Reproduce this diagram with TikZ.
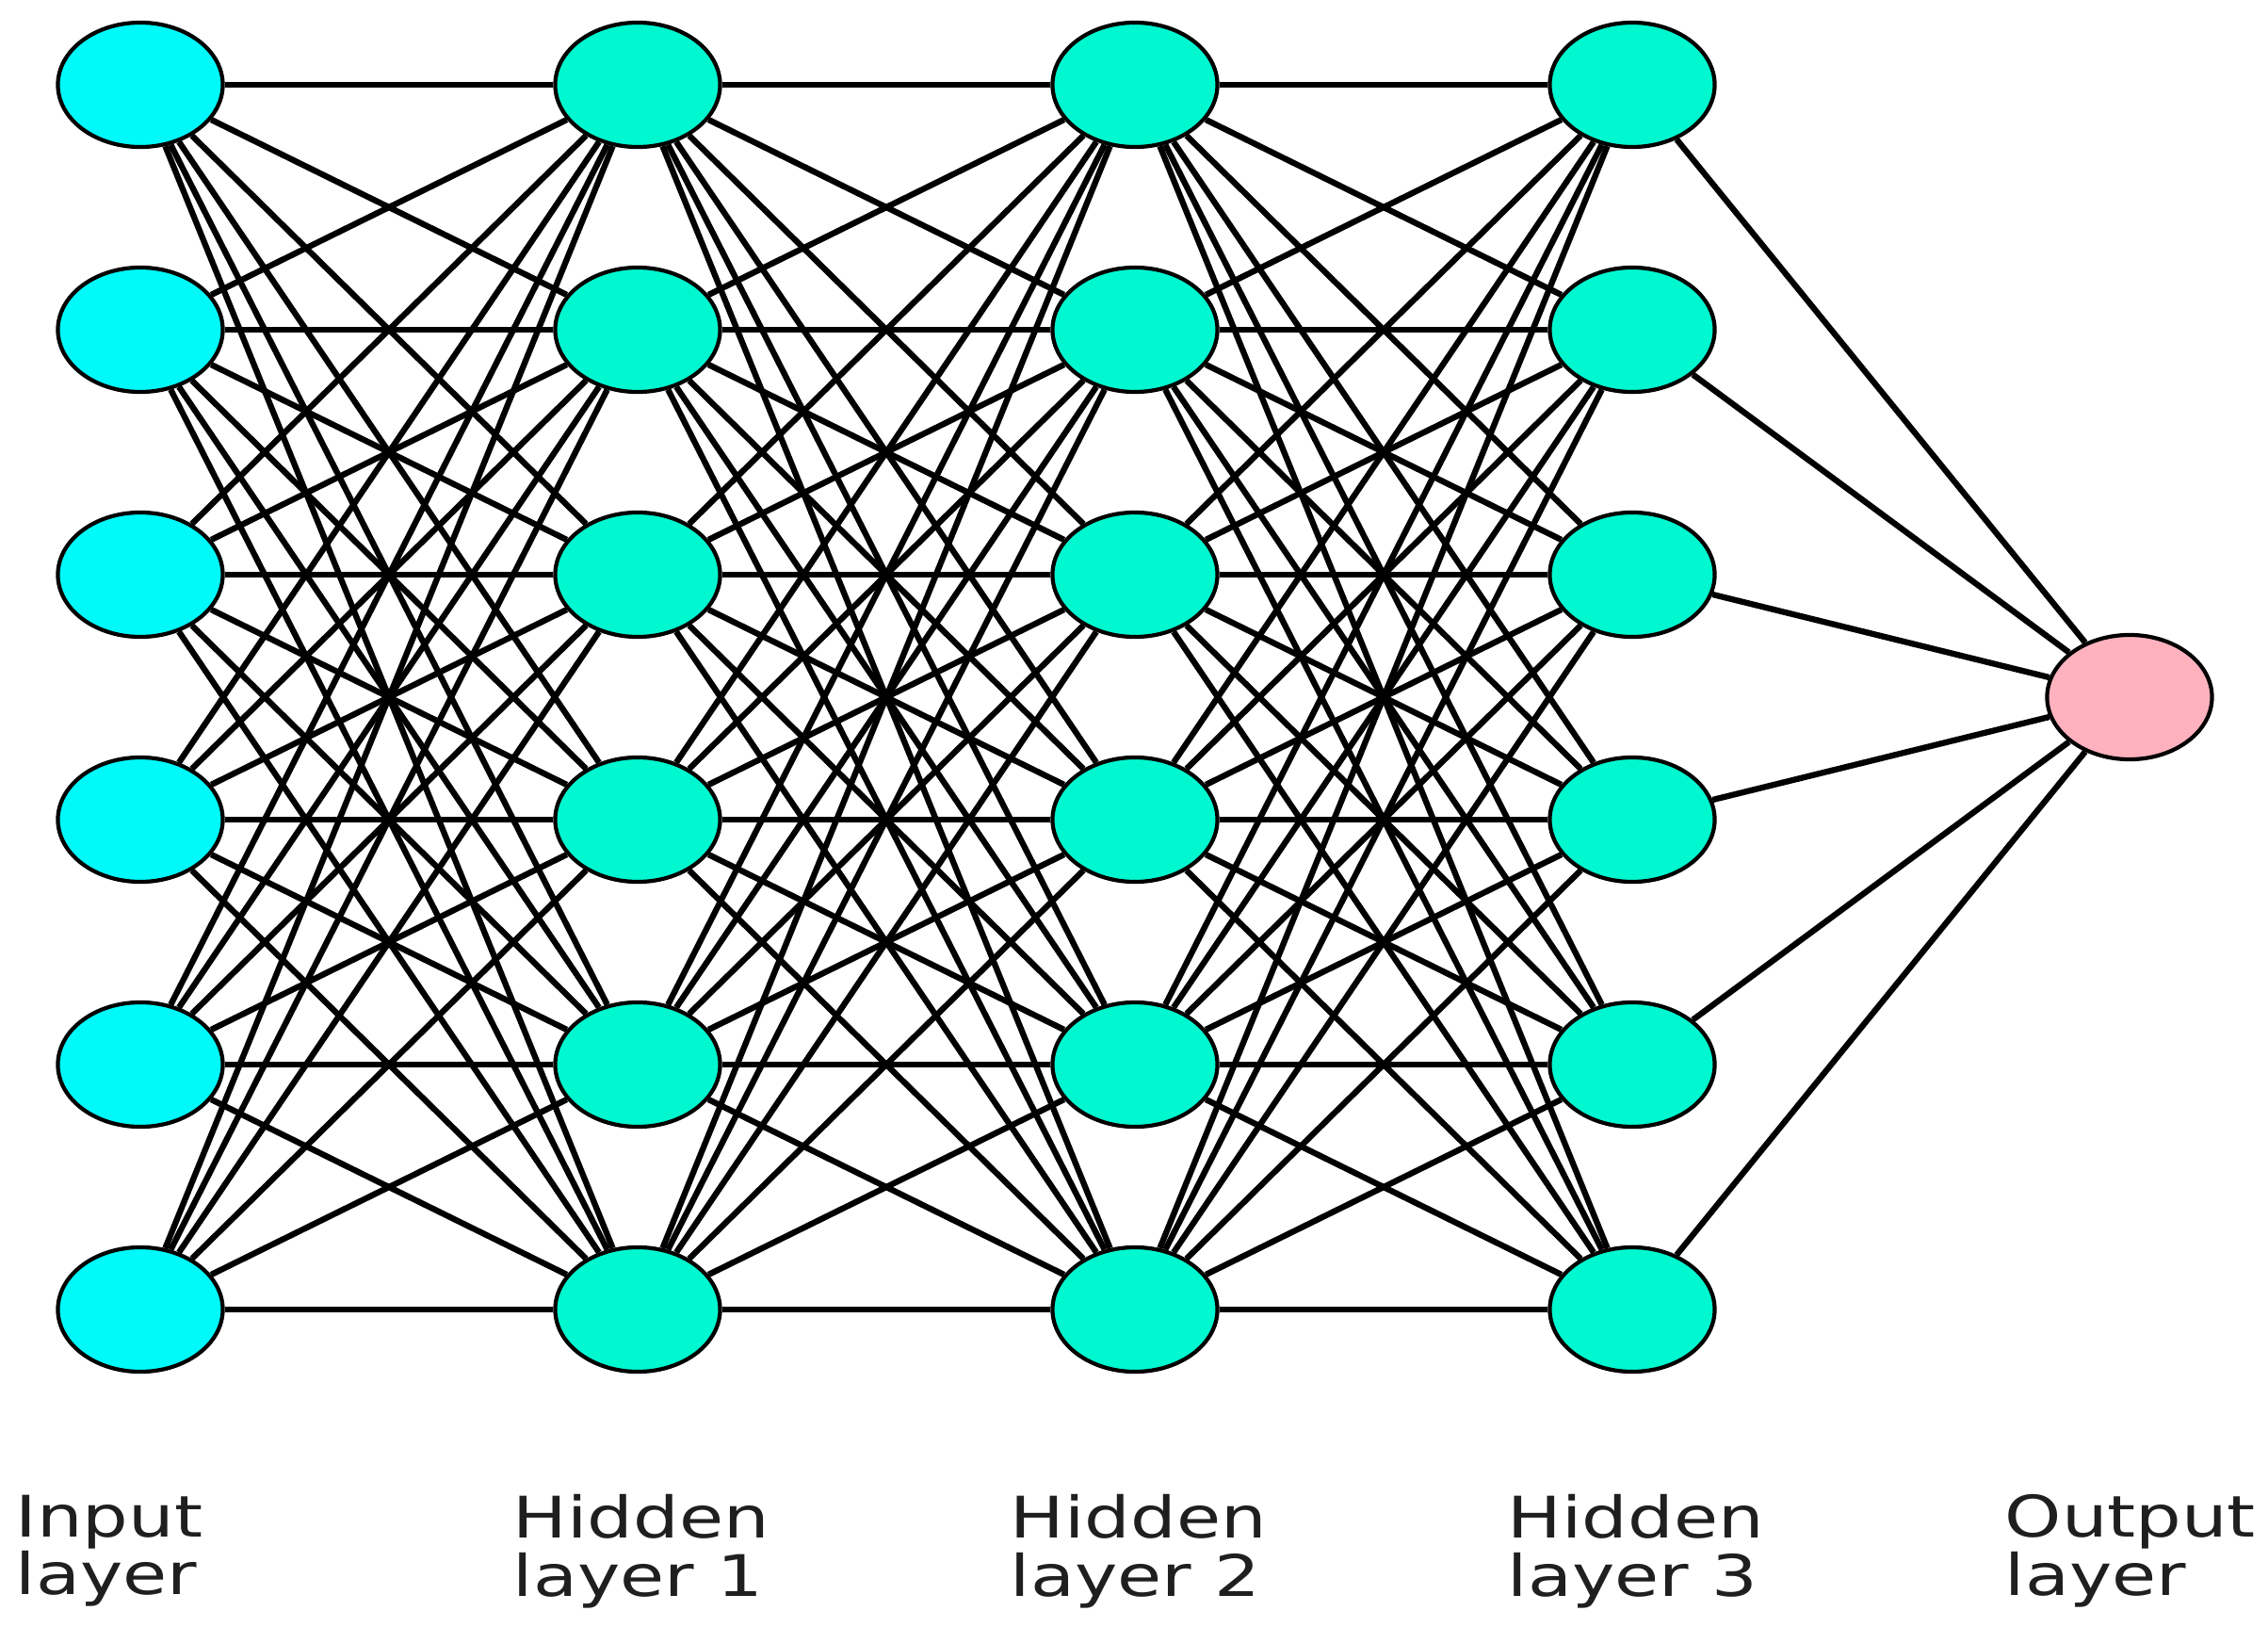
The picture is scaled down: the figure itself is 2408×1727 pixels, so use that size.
\documentclass[tikz,border=0pt]{standalone}
\usepackage{fontspec}
\newfontfamily\lblfont[FakeStretch=1.26]{DejaVu Sans}
\usetikzlibrary{shapes.geometric,backgrounds}
\definecolor{incol}{RGB}{0,250,250}
\definecolor{hidcol}{RGB}{0,248,208}
\definecolor{outcol}{RGB}{255,178,190}
\begin{document}
\begin{tikzpicture}[x=0.01cm,y=-0.01cm,
  neuron/.style={ellipse,draw=black,line width=1.2pt,minimum width=1.75cm,minimum height=1.32cm,inner sep=0pt},
  innode/.style={neuron,fill=incol},
  hidnode/.style={neuron,fill=hidcol},
  outnode/.style={neuron,fill=outcol},
  conn/.style={line width=1.8pt,draw=black},
  lbl/.style={anchor=north west,inner sep=0pt,align=left,text=black!88,font=\lblfont\fontsize{17.3}{17.6}\selectfont}]
\useasboundingbox (0,0) rectangle (2408,1727);
\foreach \i in {1,...,6}{
  \pgfmathsetmacro{\yy}{90+260*(\i-1)}
  \node[innode]  (i\i) at (149,\yy) {};
  \node[hidnode] (a\i) at (677,\yy) {};
  \node[hidnode] (b\i) at (1205,\yy) {};
  \node[hidnode] (c\i) at (1733,\yy) {};
}
\node[outnode] (o) at (2261,740) {};
\begin{scope}[on background layer]
\foreach \p in {1,...,6}{
  \foreach \q in {1,...,6}{
    \draw[conn] (i\p) -- (a\q);
    \draw[conn] (a\p) -- (b\q);
    \draw[conn] (b\p) -- (c\q);
  }
  \draw[conn] (c\p) -- (o);
}
\end{scope}
\node[lbl] (li) at (16,1586) {Input\\layer};
\node[lbl] (l1) at (544,1586) {Hidden\\layer 1};
\node[lbl] (l2) at (1072,1586) {Hidden\\layer 2};
\node[lbl] (l3) at (1600,1586) {Hidden\\layer 3};
\node[lbl] (lo) at (2128,1586) {Output\\layer};
\end{tikzpicture}
\end{document}
